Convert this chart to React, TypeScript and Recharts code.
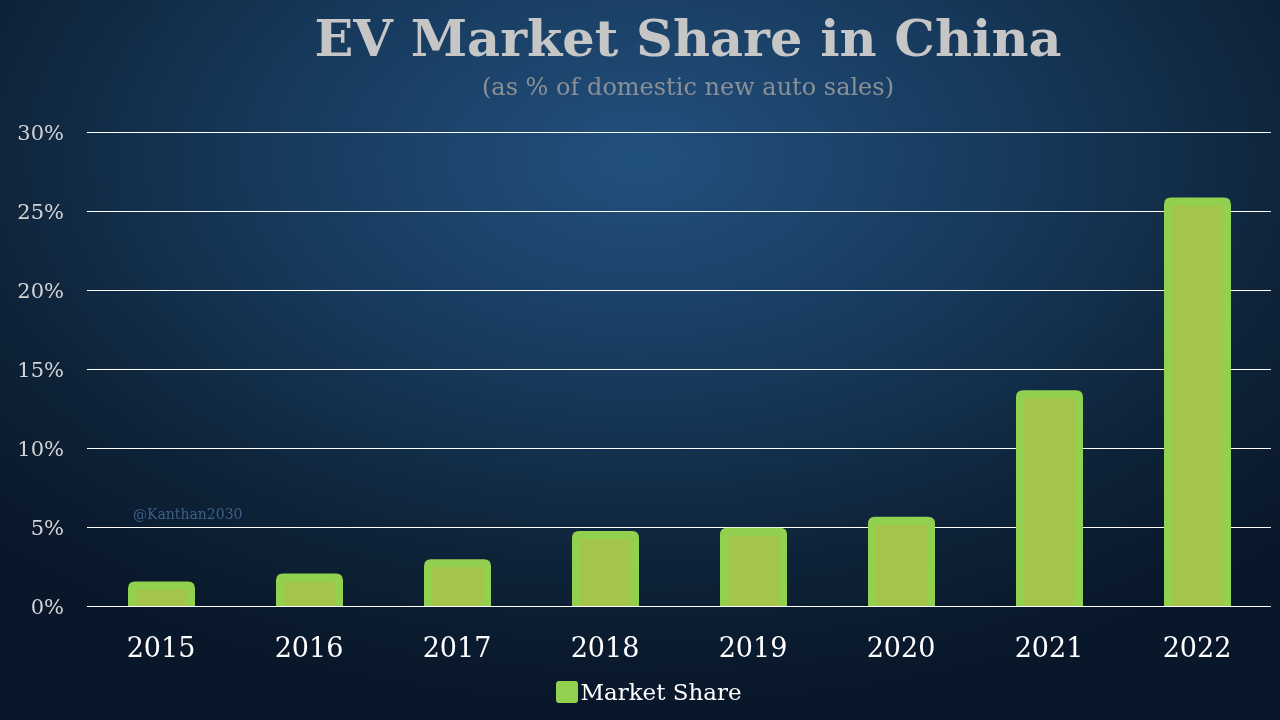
import { BarChart, Bar, XAxis, YAxis, CartesianGrid, Legend } from "recharts";

const years = ["2015", "2016", "2017", "2018", "2019", "2020", "2021", "2022"];
const marketShare = [1.3, 1.8, 2.7, 4.5, 4.7, 5.4, 13.4, 25.6];
const yTicks = [0, 5, 10, 15, 20, 25, 30];

const data = years.map((year, i) => ({ year, share: marketShare[i] }));

const serif = "'DejaVu Serif', 'Liberation Serif', serif";

function XTick({ x, y, payload }: any) {
  return (
    <text x={x} y={y + 51} textAnchor="middle" fill="#ffffff" fontSize={27} fontFamily={serif}>
      {payload.value}
    </text>
  );
}

function YTick({ x, y, payload }: any) {
  return (
    <text x={x - 23} y={y + 8} textAnchor="end" fill="#d4d4d4" fontSize={21} fontFamily={serif}>
      {`${payload.value}%`}
    </text>
  );
}

// bar with a thick light outline that stops at the baseline
function OutlinedBar({ x, y, width, height }: any) {
  const r = 3;
  const edge = `M${x},${y + height} L${x},${y + r} Q${x},${y} ${x + r},${y} L${x + width - r},${y} Q${x + width},${y} ${x + width},${y + r} L${x + width},${y + height}`;
  return (
    <g>
      <rect x={x} y={y} width={width} height={height} fill="#a3c54a" />
      <path d={edge} fill="none" stroke="#92d050" strokeWidth={8} strokeLinejoin="round" />
    </g>
  );
}

function LegendContent() {
  return (
    <div
      style={{
        height: 30,
        display: "flex",
        alignItems: "center",
        justifyContent: "center",
        fontFamily: serif,
        fontSize: 23,
        color: "#ffffff",
      }}
    >
      <span
        style={{
          display: "inline-block",
          width: 22,
          height: 22,
          background: "#92d050",
          borderRadius: 3,
          marginRight: 2,
        }}
      />
      Market Share
    </div>
  );
}

export default function App() {
  return (
    <div
      style={{
        position: "fixed",
        left: 0,
        top: 0,
        width: 1280,
        height: 720,
        overflow: "hidden",
        background:
          "radial-gradient(ellipse 70% 75% at 50% 22%, #22507d 0%, #173a5d 40%, #0e2338 75%, #09172a 100%)",
      }}
    >
      <div
        style={{
          position: "absolute",
          top: 8,
          left: 0,
          width: 1376,
          textAlign: "center",
          fontFamily: serif,
          fontWeight: 900,
          fontSize: 51,
          color: "#c6c6c6",
        }}
      >
        EV Market Share in China
      </div>
      <div
        style={{
          position: "absolute",
          top: 73,
          left: 0,
          width: 1376,
          textAlign: "center",
          fontFamily: serif,
          fontSize: 24,
          color: "#8b9096",
        }}
      >
        (as % of domestic new auto sales)
      </div>
      <div
        style={{
          position: "absolute",
          top: 506,
          left: 133,
          fontFamily: serif,
          fontSize: 14,
          color: "#3d6088",
        }}
      >
        @Kanthan2030
      </div>
      <BarChart
        width={1280}
        height={720}
        data={data}
        margin={{ top: 132, right: 9, left: 27, bottom: 13 }}
        style={{ position: "absolute", left: 0, top: 0 }}
      >
        <CartesianGrid
          vertical={false}
          stroke="#ffffff"
          strokeOpacity={1}
          strokeWidth={1}
          shapeRendering="crispEdges"
        />
        <XAxis
          dataKey="year"
          axisLine={false}
          tickLine={false}
          tickSize={0}
          tickMargin={0}
          height={71}
          tick={<XTick />}
          interval={0}
        />
        <YAxis
          domain={[0, 30]}
          ticks={yTicks}
          axisLine={false}
          tickLine={false}
          tickSize={0}
          tickMargin={0}
          width={60}
          tick={<YTick />}
        />
        <Legend verticalAlign="bottom" height={30} content={<LegendContent />} />
        <Bar
          dataKey="share"
          name="Market Share"
          fill="#a3c54a"
          barSize={59}
          shape={<OutlinedBar />}
          isAnimationActive={false}
        />
      </BarChart>
    </div>
  );
}
